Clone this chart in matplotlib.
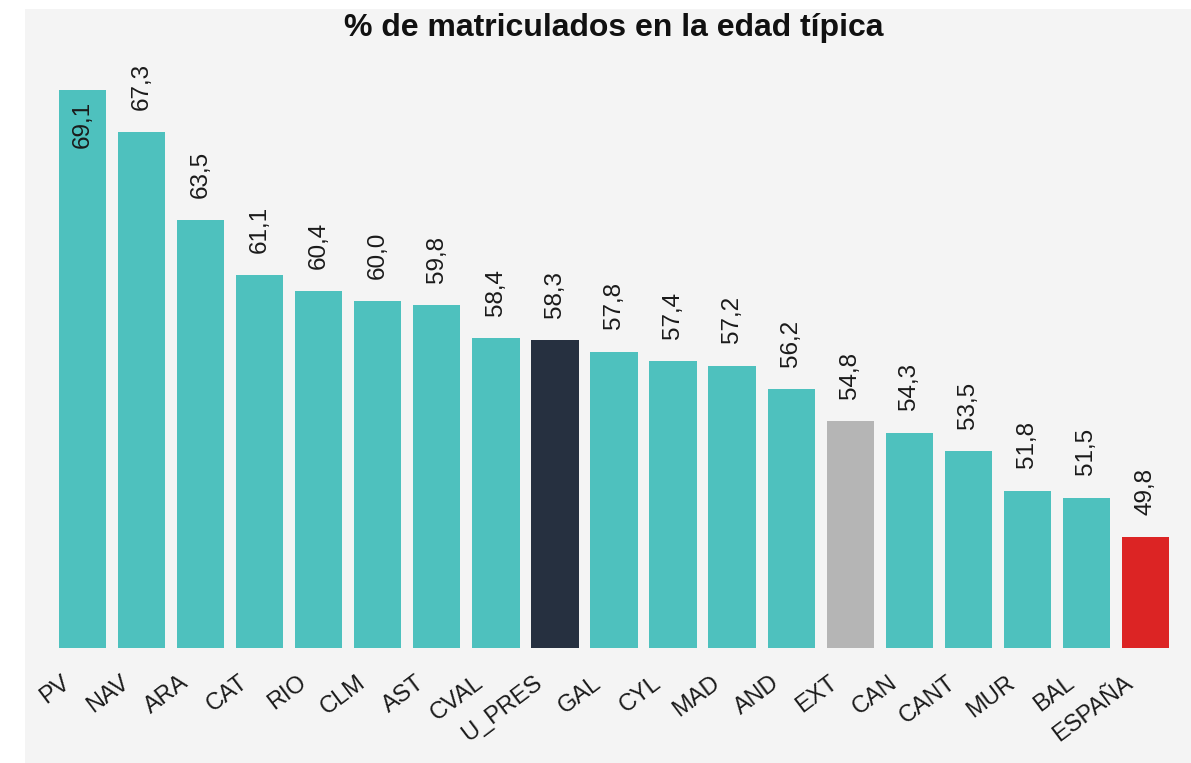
import matplotlib.pyplot as plt
from matplotlib.patches import Rectangle
from matplotlib.transforms import ScaledTranslation

plt.rcParams['font.family'] = ['Liberation Sans', 'DejaVu Sans']

regiones = ['PV', 'NAV', 'ARA', 'CAT', 'RIO', 'CLM', 'AST', 'CVAL', 'U_PRES',
            'GAL', 'CYL', 'MAD', 'AND', 'EXT', 'CAN', 'CANT', 'MUR', 'BAL', 'ESPAÑA']
valores = [69.1, 67.3, 63.5, 61.1, 60.4, 60.0, 59.8, 58.4, 58.3,
           57.8, 57.4, 57.2, 56.2, 54.8, 54.3, 53.5, 51.8, 51.5, 49.8]

TEAL = '#4ec1be'
colores_especiales = {'U_PRES': '#263040', 'EXT': '#b5b5b5', 'ESPAÑA': '#dc2424'}
colores = [colores_especiales.get(r, TEAL) for r in regiones]

fig = plt.figure(figsize=(11.91, 7.63), dpi=100)
fig.patch.set_facecolor('white')
# panel gris de fondo
fig.patches.append(Rectangle((25 / 1191, 0), 1 - 25 / 1191, (763 - 9) / 763,
                             transform=fig.transFigure, facecolor='#f4f4f4',
                             edgecolor='none', zorder=-10))

ax = fig.add_axes([53 / 1191, 115 / 763, (1175 - 53) / 1191, 588 / 763])
ax.set_facecolor('none')

x = list(range(len(regiones)))
ax.bar(x, valores, width=0.8, color=colores, zorder=2)
ax.set_xlim(-0.5, len(regiones) - 0.5)
ax.set_ylim(45, 70.4)

tope = ax.get_ylim()[1]
for xi, v in zip(x, valores):
    etiqueta = f'{v:.1f}'.replace('.', ',')
    if v + 2 > tope:
        ax.annotate(etiqueta, (xi, v), xytext=(0, -8), textcoords='offset points',
                    ha='center', va='top', rotation=90, fontsize=17.5, color='#1a1a1a')
    else:
        ax.annotate(etiqueta, (xi, v), xytext=(0, 16), textcoords='offset points',
                    ha='center', va='bottom', rotation=90, fontsize=17.5, color='#1a1a1a')

for s in ax.spines.values():
    s.set_visible(False)
ax.set_yticks([])
ax.set_xticks(x)
ax.set_xticklabels(regiones, rotation=37, ha='right', fontsize=17, color='#1a1a1a')
ax.tick_params(axis='x', length=0, pad=17)
desplaza = ScaledTranslation(-8 / 100, 0, fig.dpi_scale_trans)
for lab in ax.get_xticklabels():
    lab.set_transform(lab.get_transform() + desplaza)

fig.text(614 / 1191, 1 - 28 / 763, '% de matriculados en la edad típica',
         ha='center', va='center', fontsize=23, fontweight='bold', color='#111111')

fig.savefig('out.png', dpi=100, facecolor=fig.get_facecolor())
